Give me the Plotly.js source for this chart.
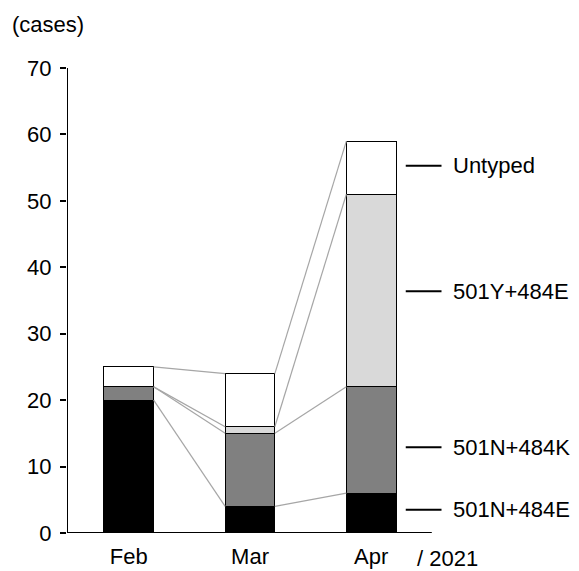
<!DOCTYPE html>
<html><head><meta charset="utf-8">
<script src="https://cdn.plot.ly/plotly-3.0.1.min.js"></script>
<style>html,body{margin:0;padding:0;background:#fff}#chart{width:579px;height:571px}</style>
</head><body><div id="chart"></div>
<script>
const months = ["Feb", "Mar", "Apr"];
const series = ["501N+484E", "501N+484K", "501Y+484E", "Untyped"];
const v501N484E = [20, 4, 6];
const v501N484K = [2, 11, 16];
const v501Y484E = [0, 1, 29];
const vUntyped = [3, 8, 8];
const labelY = [3.5, 12.9, 36.4, 55.3];
const yTicks = [0, 10, 20, 30, 40, 50, 60, 70];

const FONT = "Liberation Sans, Arial, sans-serif";
const FS = 22;
const values = [v501N484E, v501N484K, v501Y484E, vUntyped];
const colors = ["#000000", "#808080", "#d9d9d9", "#ffffff"];
const xs = months.map((m, i) => i);
const bw = 0.41;

const traces = values.map((vals, k) => ({
  type: "bar", x: xs, y: vals, name: series[k], width: bw,
  marker: {color: colors[k], line: {color: "#000", width: 1}},
  hoverinfo: "skip"
}));

const cum = values.map((_, k) => xs.map(i => values.slice(0, k + 1).reduce((s, a) => s + a[i], 0)));
const lines = [];
for (let k = 0; k < values.length; k++) {
  for (let i = 0; i < xs.length - 1; i++) {
    lines.push({
      type: "scatter", mode: "lines",
      x: [xs[i] + bw / 2, xs[i + 1] - bw / 2],
      y: [cum[k][i], cum[k][i + 1]],
      line: {color: "#a6a6a6", width: 1.2}, hoverinfo: "skip", showlegend: false
    });
  }
}

const shapes = [
  {type: "line", xref: "x", yref: "y", x0: -0.51, x1: 2.5, y0: 0, y1: 0, line: {color: "#000", width: 2}},
  {type: "line", xref: "x", yref: "y", x0: -0.51, x1: -0.51, y0: 0, y1: 70, line: {color: "#000", width: 2}}
];
const annotations = [];
series.forEach((s, k) => {
  shapes.push({type: "line", xref: "x", yref: "y", x0: 2.285, x1: 2.58, y0: labelY[k], y1: labelY[k], line: {color: "#000", width: 2}});
  annotations.push({xref: "x", yref: "y", x: 2.66, y: labelY[k], text: s, showarrow: false, xanchor: "left", yanchor: "middle",
    font: {family: FONT, size: FS, color: "#000"}});
});
annotations.push({xref: "paper", yref: "paper", x: -0.117, y: 1.0925, text: "(cases)", showarrow: false, xanchor: "left", yanchor: "middle",
  font: {family: FONT, size: FS, color: "#000"}});
annotations.push({xref: "x", yref: "paper", x: 2.36, y: 0, yshift: -25, text: "/ 2021", showarrow: false, xanchor: "left", yanchor: "middle",
  font: {family: FONT, size: FS, color: "#000"}});

const layout = {
  width: 579, height: 571,
  margin: {l: 67, r: 26, t: 68, b: 38},
  paper_bgcolor: "#fff", plot_bgcolor: "#fff",
  barmode: "stack", showlegend: false,
  font: {family: FONT, size: FS, color: "#000"},
  xaxis: {range: [-0.51, 3.5], tickmode: "array", tickvals: xs, ticktext: months, showline: false, showgrid: false, zeroline: false,
    ticks: "", ticklabelstandoff: 8, fixedrange: true},
  yaxis: {range: [0, 70], tickmode: "array", tickvals: yTicks, showline: false, showgrid: false, zeroline: false,
    ticks: "outside", ticklen: 6, tickwidth: 2, tickcolor: "#000", ticklabelstandoff: 4, fixedrange: true},
  shapes: shapes, annotations: annotations
};
Plotly.newPlot("chart", [...traces, ...lines], layout, {displayModeBar: false, staticPlot: true});
</script></body></html>
